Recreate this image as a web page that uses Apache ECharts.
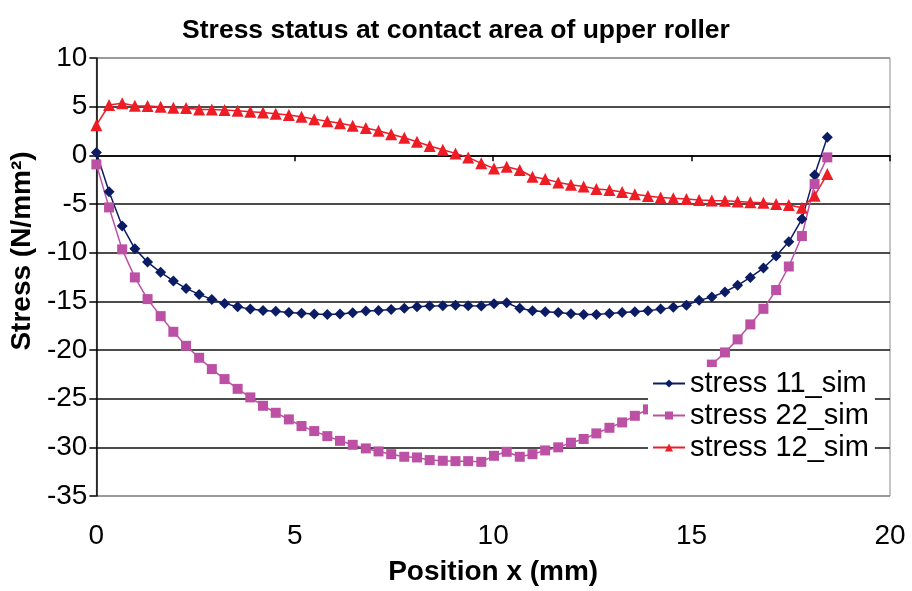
<!DOCTYPE html>
<html>
<head>
<meta charset="utf-8">
<script src="https://cdn.jsdelivr.net/npm/echarts@6/dist/echarts.min.js"></script>
<style>
  html, body { margin: 0; padding: 0; background: #fff; }
  #main { width: 912px; height: 591px; }
</style>
</head>
<body>
<div id="main"></div>
<script>
// position along contact (mm)
const posX = [0, 0.32, 0.65, 0.97, 1.29, 1.62, 1.94, 2.26, 2.59, 2.91,
  3.23, 3.56, 3.88, 4.20, 4.52, 4.85, 5.17, 5.49, 5.82, 6.14,
  6.46, 6.79, 7.11, 7.43, 7.76, 8.08, 8.40, 8.73, 9.05, 9.37,
  9.70, 10.02, 10.34, 10.67, 10.99, 11.31, 11.64, 11.96, 12.28, 12.60,
  12.93, 13.25, 13.57, 13.90, 14.22, 14.54, 14.87, 15.19, 15.51, 15.84,
  16.16, 16.48, 16.81, 17.13, 17.45, 17.78, 18.10, 18.42];

const stress11 = [0.3, -3.74, -7.25, -9.6, -10.97, -12.02, -12.9, -13.67, -14.29, -14.8,
  -15.21, -15.56, -15.8, -15.93, -16.03, -16.14, -16.22, -16.31, -16.36, -16.31,
  -16.17, -16.0, -15.93, -15.83, -15.72, -15.56, -15.49, -15.45, -15.39, -15.45,
  -15.49, -15.25, -15.15, -15.72, -15.97, -16.07, -16.14, -16.28, -16.36, -16.34,
  -16.24, -16.14, -16.07, -15.97, -15.8, -15.62, -15.39, -14.9, -14.56, -14.03,
  -13.35, -12.54, -11.58, -10.35, -8.88, -6.55, -2.03, 1.85];

const stress22 = [-0.93, -5.35, -9.66, -12.54, -14.77, -16.52, -18.13, -19.57, -20.8, -21.96,
  -22.99, -23.99, -24.87, -25.73, -26.45, -27.13, -27.81, -28.33, -28.85, -29.33,
  -29.74, -30.11, -30.42, -30.7, -30.97, -31.04, -31.31, -31.38, -31.42, -31.42,
  -31.49, -30.87, -30.46, -30.97, -30.7, -30.32, -30.0, -29.52, -29.14, -28.57,
  -27.99, -27.44, -26.76, -26.1, -25.35, -24.5, -23.6, -22.6, -21.5, -20.25,
  -18.91, -17.37, -15.77, -13.84, -11.42, -8.29, -2.95, -0.21];

const stress12 = [3.1, 5.17, 5.34, 5.1, 5.07, 5.0, 4.9, 4.86, 4.72, 4.72,
  4.65, 4.58, 4.48, 4.4, 4.28, 4.14, 3.97, 3.72, 3.5, 3.29,
  3.04, 2.8, 2.53, 2.16, 1.81, 1.4, 0.96, 0.58, 0.2, -0.21,
  -0.82, -1.34, -1.17, -1.51, -2.2, -2.44, -2.78, -3.02, -3.19, -3.45,
  -3.57, -3.77, -4.0, -4.18, -4.32, -4.42, -4.49, -4.59, -4.63, -4.66,
  -4.75, -4.83, -4.87, -5.0, -5.1, -5.38, -4.14, -1.92];

const seriesNames = ['stress 11_sim', 'stress 22_sim', 'stress 12_sim'];

const FONT = '"Liberation Sans", Arial, sans-serif';

const zip = (xs, ys) => xs.map((x, i) => [x, ys[i]]);

const mkSeries = (name, data, color, symbol, size) => ({
  name: name,
  type: 'line',
  xAxisIndex: 0,
  data: zip(posX, data),
  symbol: symbol,
  symbolSize: size,
  showAllSymbol: true,
  itemStyle: { color: color },
  lineStyle: { color: color, width: 1.5 },
  animation: false
});

const chart = echarts.init(document.getElementById('main'), null, { renderer: 'canvas' });

chart.setOption({
  backgroundColor: '#fff',
  textStyle: { fontFamily: FONT },
  title: {
    text: 'Stress status at contact area of upper roller',
    left: 'center',
    top: 12,
    textStyle: { fontFamily: FONT, fontSize: 26.5, fontWeight: 'bold', color: '#000' }
  },
  legend: {
    data: seriesNames,
    orient: 'vertical',
    left: 648,
    top: 367,
    itemWidth: 32,
    itemHeight: 10,
    itemGap: 3,
    backgroundColor: '#fff',
    padding: [2, 6, 2, 4],
    textStyle: { fontFamily: FONT, fontSize: 29, color: '#000' }
  },
  grid: {
    left: 95,
    right: 22,
    top: 58,
    bottom: 95,
    show: true,
    borderColor: '#8c8c8c',
    borderWidth: 1
  },
  xAxis: [
    {
      type: 'value',
      min: 0, max: 20, interval: 5,
      position: 'bottom',
      name: 'Position x (mm)',
      nameLocation: 'middle',
      nameGap: 62,
      nameTextStyle: { fontFamily: FONT, fontSize: 28, fontWeight: 'bold', color: '#000' },
      axisLine: { show: false, onZero: false },
      axisTick: { show: false },
      axisLabel: { fontFamily: FONT, fontSize: 28, color: '#000', margin: 26 },
      splitLine: { show: false }
    },
    {
      type: 'value',
      min: 0, max: 20, interval: 5,
      position: 'bottom',
      axisLine: { show: true, onZero: true, lineStyle: { color: '#000', width: 1.5 } },
      axisTick: { show: true, length: 6, lineStyle: { color: '#000', width: 1.5 } },
      axisLabel: { show: false },
      splitLine: { show: false }
    }
  ],
  yAxis: {
    type: 'value',
    min: -35, max: 10, interval: 5,
    name: 'Stress (N/mm²)',
    nameLocation: 'middle',
    nameGap: 56,
    nameTextStyle: {
      fontFamily: FONT, fontSize: 28, fontWeight: 'bold', color: '#000',
      padding: [0, 0, 0, 52]
    },
    axisLine: { show: true, lineStyle: { color: '#000', width: 1.5 } },
    axisTick: { show: true, length: 7, lineStyle: { color: '#000', width: 1.5 } },
    axisLabel: { fontFamily: FONT, fontSize: 28, color: '#000', margin: 9 },
    splitLine: {
      show: true,
      lineStyle: {
        color: ['#8c8c8c', '#111', '#111', '#111', '#111', '#111', '#111', '#111', '#111', '#8c8c8c'],
        width: 1.5
      }
    }
  },
  series: [
    mkSeries(seriesNames[0], stress11, '#0c1c64', 'diamond', 11),
    mkSeries(seriesNames[1], stress22, '#bc50a4', 'rect', 10),
    mkSeries(seriesNames[2], stress12, '#ee1c25', 'triangle', 12)
  ]
});
</script>
</body>
</html>
